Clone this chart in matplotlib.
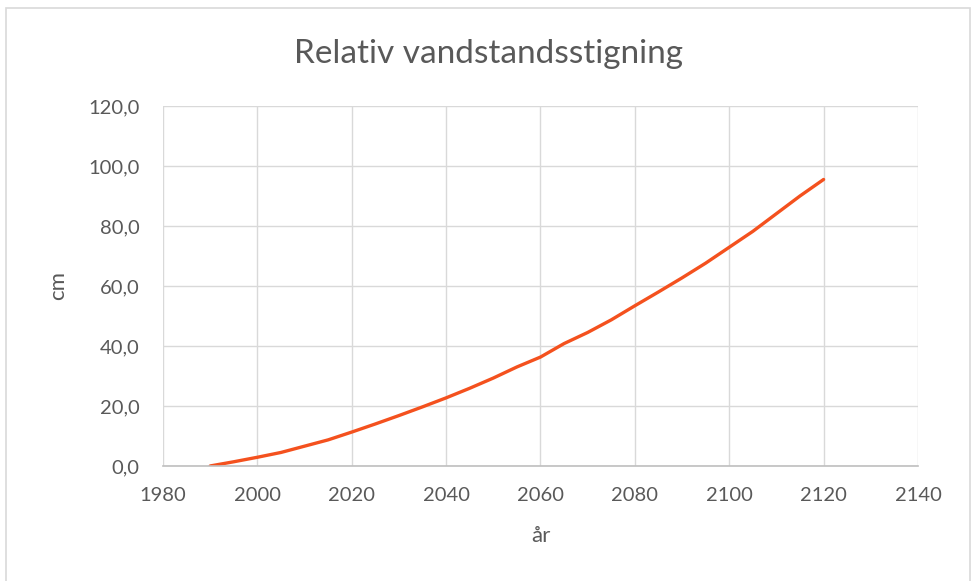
import matplotlib
matplotlib.use("Agg")
import matplotlib.pyplot as plt
from matplotlib.patches import Rectangle

years = [1990, 1995, 2000, 2005, 2010, 2015, 2020, 2025, 2030, 2035, 2040, 2045,
         2050, 2055, 2060, 2065, 2070, 2075, 2080, 2085, 2090, 2095, 2100, 2105,
         2110, 2115, 2120]
cm = [0.0, 1.4, 2.9, 4.5, 6.6, 8.7, 11.3, 14.0, 16.8, 19.7, 22.7, 25.9,
      29.3, 33.0, 36.3, 40.8, 44.5, 48.7, 53.4, 58.0, 62.7, 67.6, 72.9, 78.2,
      84.1, 90.0, 95.5]

xticks = [1980, 2000, 2020, 2040, 2060, 2080, 2100, 2120, 2140]
yticks = [0, 20, 40, 60, 80, 100, 120]
ytick_labels = ["0,0", "20,0", "40,0", "60,0", "80,0", "100,0", "120,0"]

plt.rcParams['font.family'] = ['Lato', 'DejaVu Sans']
text_col = '#595959'

fig = plt.figure(figsize=(9.72, 5.81), dpi=100)
fig.patches.append(Rectangle((0.006, -0.01), 0.992, 0.997, transform=fig.transFigure,
                             fill=False, edgecolor='#d9d9d9', linewidth=1.2))
ax = fig.add_axes([0.1677, 0.198, 0.7767, 0.6196])

ax.plot(years, cm, color='#F4511E', linewidth=2.4, solid_capstyle='round')

ax.set_xlim(1980, 2140)
ax.set_ylim(0, 120)
ax.set_xticks(xticks)
ax.set_xticklabels([str(t) for t in xticks])
ax.set_yticks(yticks)
ax.set_yticklabels(ytick_labels)
ax.grid(True, color='#d9d9d9', linewidth=1)
ax.set_axisbelow(True)
for s in ['top', 'right', 'left']:
    ax.spines[s].set_visible(False)
ax.spines['bottom'].set_color('#bfbfbf')
ax.spines['bottom'].set_linewidth(1.2)
ax.tick_params(axis='both', length=0, labelsize=14.5, colors=text_col)
ax.tick_params(axis='y', pad=17)
ax.tick_params(axis='x', pad=15)

ax.set_xlabel('år', fontsize=16, color=text_col, labelpad=16)
ax.set_ylabel('cm', fontsize=16, color=text_col, labelpad=14)
fig.text(0.503, 0.907, 'Relativ vandstandsstigning', ha='center', va='center',
         fontsize=24, color=text_col)

fig.savefig('out.png', dpi=100, facecolor='white')
